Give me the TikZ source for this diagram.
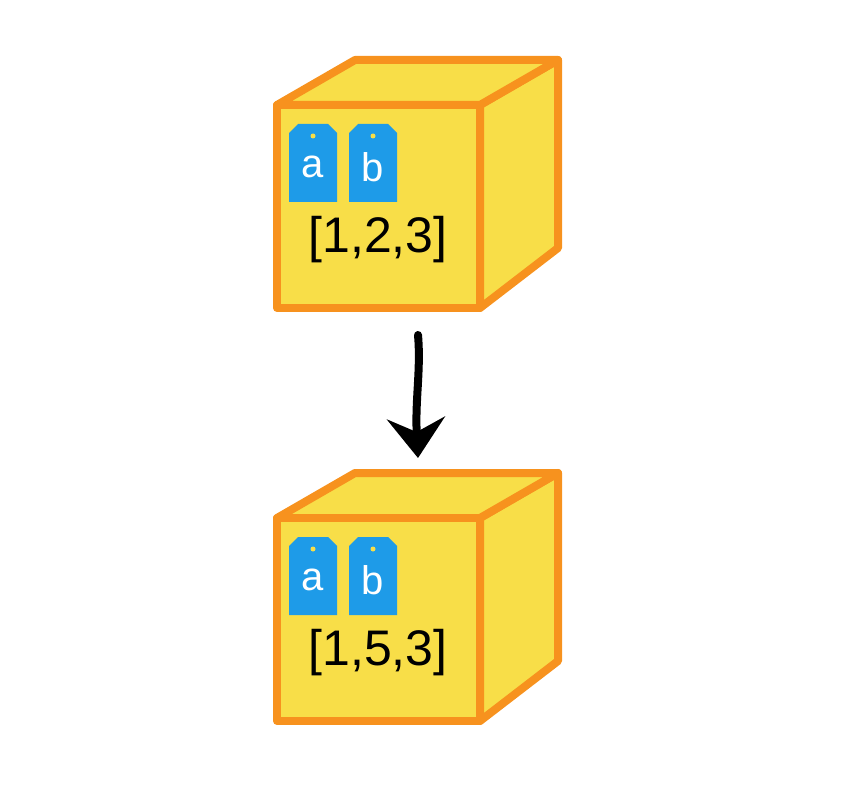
\documentclass[tikz,border=0pt]{standalone}
\usepackage{fontspec}
\setmainfont{Liberation Sans}
\usetikzlibrary{arrows.meta}
\definecolor{boxfill}{HTML}{F8DE48}
\definecolor{boxedge}{HTML}{F7921E}
\definecolor{tagblue}{HTML}{1E9BE8}
\tikzset{face/.style={fill=boxfill,draw=boxedge,line width=8pt,line join=round},
 tagbox/.style={fill=tagblue},
 taglabel/.style={text=white,font=\fontsize{40}{40}\selectfont},
 listlabel/.style={font=\fontsize{50}{50}\selectfont}}
\newcommand{\crate}[3]{% name, y of front top, list text
 \begin{scope}[yshift=-#2pt]
 \draw[face] (480,0) -- (558,-45) -- (558,143) -- (480,203) -- cycle;
 \draw[face] (277,0) -- (355,-45) -- (558,-45) -- (480,0) -- cycle;
 \draw[face] (277,0) rectangle (480,203);
 \foreach \x/\t in {289/a,349/b}{
  \fill[tagbox] (\x,28) -- (\x+9,19) -- (\x+39,19) -- (\x+48,28) -- (\x+48,97) -- (\x,97) -- cycle;
  \fill[boxfill] (\x+24,31) circle (2.5);
  \node[taglabel] (#1\t) at (\x+24,62) {\t};
 }
 \node[listlabel] (#1) at (378,135) {#3};
 \end{scope}}
\begin{document}
\begin{tikzpicture}[x=1pt,y=-1pt]
\useasboundingbox (0,0) rectangle (858,786);
\crate{top}{105}{[1,2,3]}
\crate{bot}{518}{[1,5,3]}
\coordinate (from) at (418,335);
\coordinate (to) at (418,458);
\draw[line width=8pt,line cap=round,-{Stealth[length=40pt,width=58pt,inset=14pt]}]
 (from) .. controls (421,370) and (415,400) .. (to);
\end{tikzpicture}
\end{document}
